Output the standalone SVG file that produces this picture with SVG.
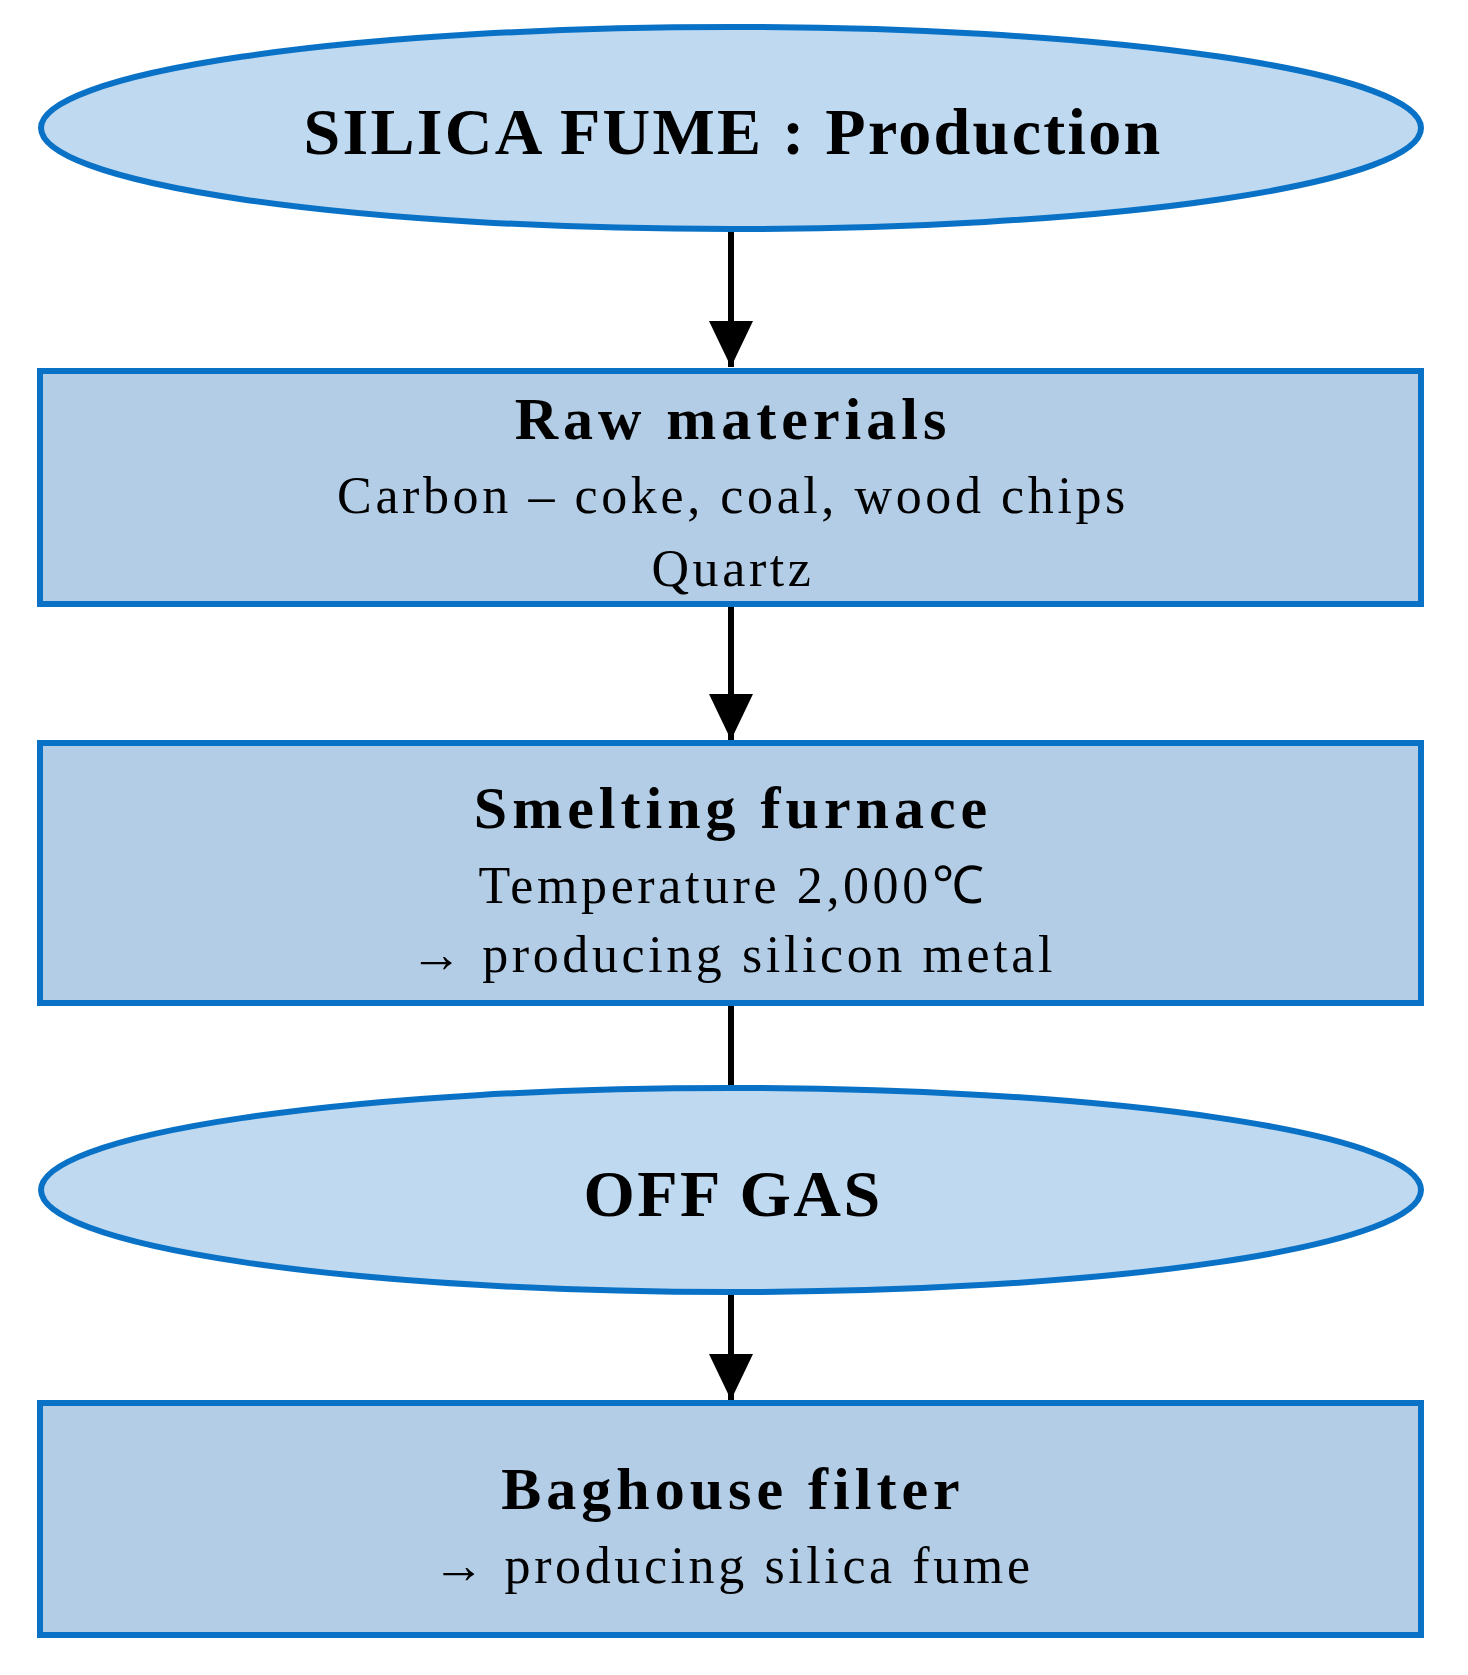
<svg xmlns="http://www.w3.org/2000/svg" width="1468" height="1675" viewBox="0 0 1468 1675">
<style>
.n{fill:#b3cde6;stroke:#0a72c6;stroke-width:6}
.e{fill:#bfd9f1;stroke:#0a72c6;stroke-width:6}
.b{font-family:"Liberation Serif",serif;font-weight:bold;text-anchor:middle;fill:#000;letter-spacing:5px}
.t{font-family:"Liberation Serif",serif;text-anchor:middle;fill:#000;font-size:52px;letter-spacing:3.6px}
.c{stroke:#000;stroke-width:6;fill:none}
</style>
<defs>
<marker id="h" viewBox="0 0 46 44" refX="46" refY="22" markerWidth="46" markerHeight="44" markerUnits="userSpaceOnUse" orient="auto"><path d="M0,0L46,22L0,44z" fill="#000"/></marker></defs>
<g id="connectors">
<line class="c" x1="731" y1="230" x2="731" y2="367" marker-end="url(#h)"/>
<line class="c" x1="731" y1="606" x2="731" y2="740" marker-end="url(#h)"/>
<line class="c" x1="731" y1="1005" x2="731" y2="1088"/>
<line class="c" x1="731" y1="1293" x2="731" y2="1400" marker-end="url(#h)"/>
</g>
<g id="title"><ellipse class="e" cx="731" cy="128" rx="690" ry="101"/><text class="b" x="733" y="154" font-size="66" style="letter-spacing:2.3px">SILICA FUME : Production</text></g>
<g id="raw"><rect class="n" x="40" y="371" width="1381" height="233"/><text class="b" x="733" y="439" font-size="60">Raw materials</text><text class="t" x="733" y="513">Carbon – coke, coal, wood chips</text><text class="t" x="733" y="586">Quartz</text></g>
<g id="smelting"><rect class="n" x="40" y="743" width="1381" height="260"/><text class="b" x="733" y="828" font-size="60">Smelting furnace</text><text class="t" x="733" y="903">Temperature 2,000℃</text><text class="t" x="733" y="972">→ producing silicon metal</text></g>
<g id="offgas"><ellipse class="e" cx="731" cy="1190" rx="690" ry="102"/><text class="b" x="733" y="1216" font-size="66" style="letter-spacing:2.5px">OFF GAS</text></g>
<g id="baghouse"><rect class="n" x="40" y="1403" width="1381" height="232"/><text class="b" x="733" y="1509" font-size="60">Baghouse filter</text><text class="t" x="733" y="1583">→ producing silica fume</text></g>
</svg>
